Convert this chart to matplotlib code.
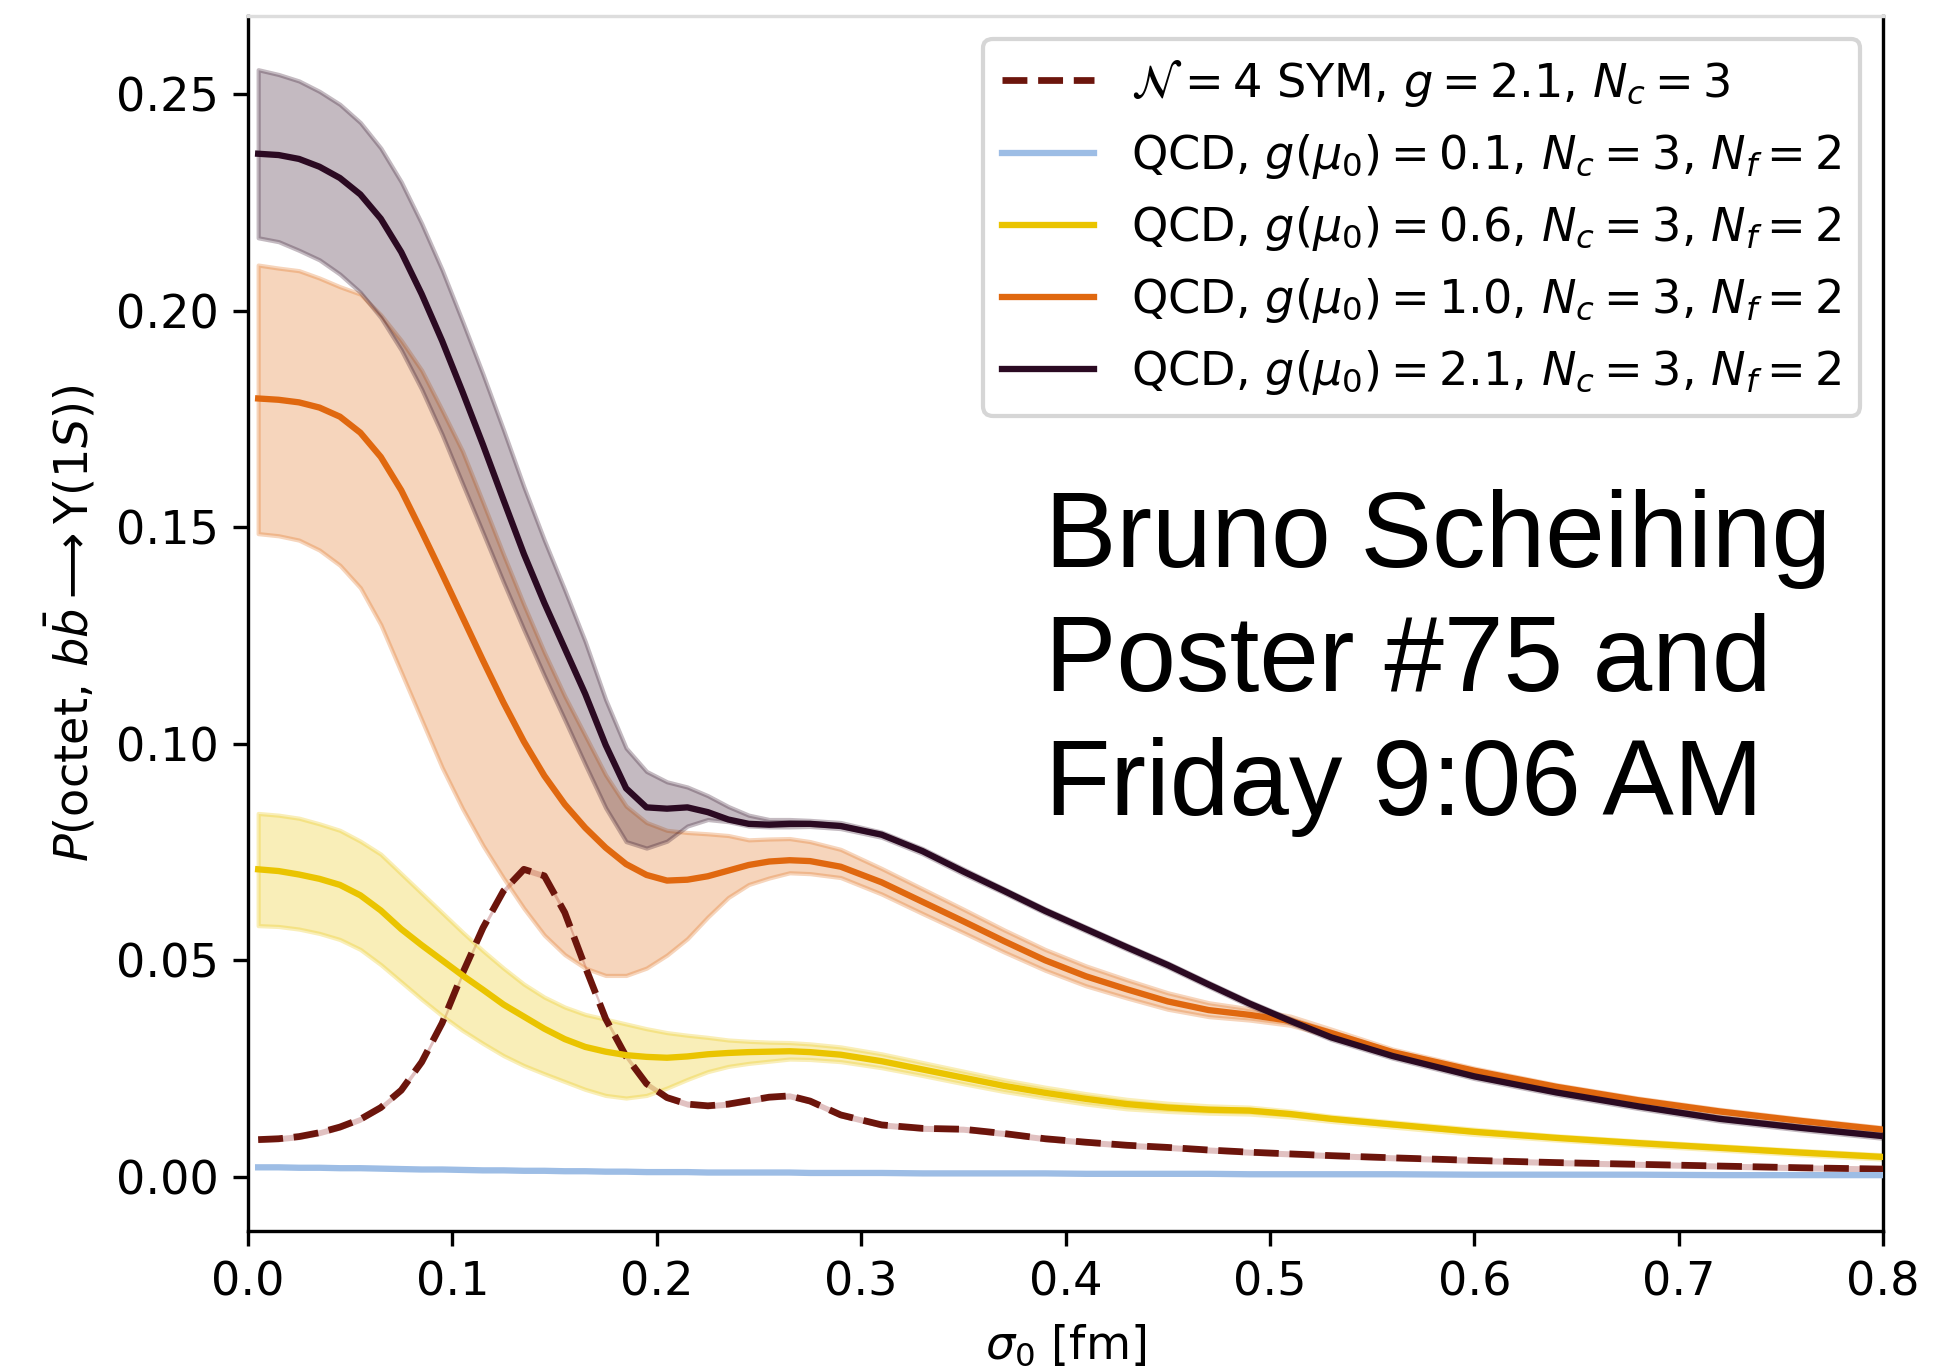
import matplotlib
matplotlib.use("Agg")
import matplotlib.pyplot as plt

sigma0 = [0.005, 0.015, 0.025, 0.035, 0.045, 0.055, 0.065, 0.075, 0.085, 0.095,
          0.105, 0.115, 0.125, 0.135, 0.145, 0.155, 0.165, 0.175, 0.185, 0.195,
          0.205, 0.215, 0.225, 0.235, 0.245, 0.255, 0.265, 0.275, 0.29, 0.31,
          0.33, 0.35, 0.37, 0.39, 0.41, 0.43, 0.45, 0.47, 0.49, 0.51,
          0.53, 0.56, 0.60, 0.64, 0.68, 0.72, 0.76, 0.80]

sym = [0.0086, 0.0088, 0.0093, 0.0102, 0.0115, 0.0133, 0.0160, 0.0200, 0.0265, 0.0355,
       0.0470, 0.0575, 0.0660, 0.0710, 0.0695, 0.0610, 0.0485, 0.0365, 0.0278, 0.0215,
       0.0183, 0.0168, 0.0164, 0.0168, 0.0176, 0.0184, 0.0187, 0.0175, 0.0143, 0.0120,
       0.0112, 0.0110, 0.0100, 0.0088, 0.0080, 0.0073, 0.0068, 0.0062, 0.0057, 0.0053,
       0.0049, 0.0044, 0.0038, 0.0033, 0.0029, 0.0025, 0.0021, 0.0018]

qcd01 = [0.0022, 0.0022, 0.0021, 0.0021, 0.0020, 0.0020, 0.0019, 0.0018, 0.0017, 0.0017,
         0.0016, 0.0015, 0.0015, 0.0014, 0.0014, 0.0013, 0.0013, 0.0012, 0.0012, 0.0011,
         0.0011, 0.0011, 0.0010, 0.0010, 0.0010, 0.0010, 0.0010, 0.0009, 0.0009, 0.0009,
         0.0008, 0.0008, 0.0008, 0.0008, 0.0007, 0.0007, 0.0007, 0.0007, 0.0006, 0.0006,
         0.0006, 0.0006, 0.0005, 0.0005, 0.0005, 0.0004, 0.0004, 0.0004]

qcd06 = [0.0710, 0.0706, 0.0698, 0.0688, 0.0674, 0.0650, 0.0615, 0.0572, 0.0535, 0.0500,
         0.0465, 0.0432, 0.0398, 0.0370, 0.0342, 0.0318, 0.0300, 0.0289, 0.0281, 0.0277,
         0.0275, 0.0278, 0.0283, 0.0286, 0.0288, 0.0289, 0.0290, 0.0288, 0.0282, 0.0267,
         0.0248, 0.0229, 0.0210, 0.0194, 0.0180, 0.0168, 0.0160, 0.0155, 0.0153, 0.0145,
         0.0134, 0.0121, 0.0104, 0.0090, 0.0078, 0.0067, 0.0056, 0.0046]
qcd06_hi = [0.0839, 0.0835, 0.0828, 0.0815, 0.0800, 0.0775, 0.0745, 0.0700, 0.0655, 0.0610,
            0.0565, 0.0522, 0.0482, 0.0445, 0.0415, 0.0392, 0.0375, 0.0364, 0.0353, 0.0342,
            0.0333, 0.0327, 0.0322, 0.0316, 0.0313, 0.0311, 0.0310, 0.0307, 0.0300, 0.0284,
            0.0264, 0.0244, 0.0224, 0.0207, 0.0192, 0.0179, 0.0170, 0.0164, 0.0161, 0.0152,
            0.0140, 0.0127, 0.0110, 0.0095, 0.0083, 0.0072, 0.0061, 0.0051]
qcd06_lo = [0.0580, 0.0578, 0.0572, 0.0562, 0.0548, 0.0525, 0.0490, 0.0450, 0.0410, 0.0372,
            0.0338, 0.0308, 0.0280, 0.0257, 0.0238, 0.0220, 0.0202, 0.0188, 0.0182, 0.0188,
            0.0205, 0.0225, 0.0243, 0.0255, 0.0262, 0.0267, 0.0272, 0.0271, 0.0266, 0.0252,
            0.0234, 0.0215, 0.0197, 0.0182, 0.0168, 0.0157, 0.0151, 0.0147, 0.0145, 0.0138,
            0.0128, 0.0115, 0.0098, 0.0085, 0.0073, 0.0062, 0.0051, 0.0041]

qcd10 = [0.1797, 0.1794, 0.1788, 0.1776, 0.1755, 0.1718, 0.1662, 0.1585, 0.1490, 0.1392,
         0.1292, 0.1192, 0.1095, 0.1005, 0.0926, 0.0860, 0.0806, 0.0760, 0.0722, 0.0697,
         0.0684, 0.0686, 0.0694, 0.0707, 0.0720, 0.0728, 0.0731, 0.0729, 0.0716, 0.0680,
         0.0635, 0.0590, 0.0544, 0.0500, 0.0463, 0.0433, 0.0405, 0.0385, 0.0374, 0.0360,
         0.0332, 0.0288, 0.0245, 0.0208, 0.0177, 0.0151, 0.0129, 0.0109]
qcd10_hi = [0.2105, 0.2098, 0.2092, 0.2075, 0.2055, 0.2038, 0.1990, 0.1931, 0.1862, 0.1770,
            0.1675, 0.1557, 0.1437, 0.1321, 0.1211, 0.1110, 0.1019, 0.0928, 0.0856, 0.0818,
            0.0800, 0.0795, 0.0792, 0.0788, 0.0778, 0.0780, 0.0781, 0.0774, 0.0756, 0.0712,
            0.0665, 0.0618, 0.0570, 0.0525, 0.0487, 0.0455, 0.0425, 0.0402, 0.0388, 0.0371,
            0.0341, 0.0295, 0.0251, 0.0213, 0.0182, 0.0156, 0.0134, 0.0114]
qcd10_lo = [0.1485, 0.1480, 0.1470, 0.1447, 0.1412, 0.1360, 0.1275, 0.1165, 0.1055, 0.0945,
            0.0850, 0.0765, 0.0690, 0.0620, 0.0558, 0.0513, 0.0482, 0.0465, 0.0465, 0.0482,
            0.0512, 0.0550, 0.0600, 0.0645, 0.0675, 0.0690, 0.0702, 0.0700, 0.0691, 0.0653,
            0.0608, 0.0564, 0.0519, 0.0477, 0.0441, 0.0413, 0.0387, 0.0370, 0.0362, 0.0350,
            0.0324, 0.0282, 0.0239, 0.0203, 0.0172, 0.0146, 0.0124, 0.0104]

qcd21 = [0.2362, 0.2359, 0.2350, 0.2332, 0.2306, 0.2268, 0.2212, 0.2135, 0.2038, 0.1930,
         0.1812, 0.1690, 0.1563, 0.1438, 0.1325, 0.1220, 0.1115, 0.0997, 0.0897, 0.0853,
         0.0850, 0.0853, 0.0842, 0.0825, 0.0815, 0.0813, 0.0815, 0.0815, 0.0810, 0.0790,
         0.0752, 0.0705, 0.0660, 0.0614, 0.0572, 0.0530, 0.0489, 0.0444, 0.0400, 0.0360,
         0.0322, 0.0279, 0.0232, 0.0195, 0.0163, 0.0134, 0.0113, 0.0094]
qcd21_hi = [0.2556, 0.2545, 0.2530, 0.2506, 0.2476, 0.2434, 0.2375, 0.2297, 0.2201, 0.2094,
            0.1975, 0.1853, 0.1725, 0.1593, 0.1470, 0.1355, 0.1236, 0.1102, 0.0990, 0.0936,
            0.0912, 0.0900, 0.0880, 0.0855, 0.0835, 0.0825, 0.0825, 0.0823, 0.0818, 0.0796,
            0.0758, 0.0711, 0.0665, 0.0619, 0.0577, 0.0535, 0.0494, 0.0449, 0.0405, 0.0365,
            0.0327, 0.0284, 0.0237, 0.0200, 0.0168, 0.0139, 0.0118, 0.0099]
qcd21_lo = [0.2168, 0.2159, 0.2139, 0.2117, 0.2084, 0.2042, 0.1984, 0.1909, 0.1818, 0.1714,
            0.1600, 0.1487, 0.1373, 0.1263, 0.1157, 0.1055, 0.0952, 0.0852, 0.0774, 0.0759,
            0.0775, 0.0810, 0.0825, 0.0820, 0.0810, 0.0808, 0.0808, 0.0809, 0.0804, 0.0784,
            0.0746, 0.0699, 0.0655, 0.0609, 0.0567, 0.0525, 0.0484, 0.0439, 0.0395, 0.0355,
            0.0317, 0.0274, 0.0227, 0.0190, 0.0158, 0.0129, 0.0108, 0.0089]

sym_band = 0.0007

labels = [r'$\mathcal{N}=4$ SYM, $g=2.1$, $N_c=3$',
          r'QCD, $g(\mu_0)=0.1$, $N_c=3$, $N_f=2$',
          r'QCD, $g(\mu_0)=0.6$, $N_c=3$, $N_f=2$',
          r'QCD, $g(\mu_0)=1.0$, $N_c=3$, $N_f=2$',
          r'QCD, $g(\mu_0)=2.1$, $N_c=3$, $N_f=2$']

c_sym = '#6c150c'
c_blue = '#9dbde5'
c_yel = '#eac400'
c_org = '#e0680f'
c_dark = '#2b0a22'

plt.rcParams['font.size'] = 11

fig = plt.figure(figsize=(6.4, 4.5233), dpi=302.66)
ax = fig.add_axes([0.128, 0.1008, 0.8442, 0.8875])

# bands
ax.fill_between(sigma0, [v - sym_band for v in sym], [v + sym_band for v in sym],
                color='#c98f8f', alpha=0.55, lw=0, zorder=1)
ax.fill_between(sigma0, qcd06_lo, qcd06_hi, color=c_yel, alpha=0.28, zorder=1)
ax.fill_between(sigma0, qcd10_lo, qcd10_hi, color=c_org, alpha=0.28, zorder=1)
ax.fill_between(sigma0, qcd21_lo, qcd21_hi, color=c_dark, alpha=0.28, zorder=1)

ax.plot(sigma0, sym, ls='--', color=c_sym, lw=1.6, label=labels[0], zorder=3)
ax.plot(sigma0, qcd01, color=c_blue, lw=1.5, label=labels[1], zorder=3)
ax.plot(sigma0, qcd06, color=c_yel, lw=1.5, label=labels[2], zorder=3)
ax.plot(sigma0, qcd10, color=c_org, lw=1.5, label=labels[3], zorder=3)
ax.plot(sigma0, qcd21, color=c_dark, lw=1.5, label=labels[4], zorder=3)

ax.set_xlim(0, 0.8)
ax.set_ylim(-0.0125, 0.268)
ax.set_xticks([0.0, 0.1, 0.2, 0.3, 0.4, 0.5, 0.6, 0.7, 0.8])
ax.set_yticks([0.0, 0.05, 0.10, 0.15, 0.20, 0.25])
ax.set_xlabel(r'$\sigma_0$ [fm]')
ax.set_ylabel(r'$P(\mathrm{octet},\, b\bar{b} \longrightarrow \Upsilon(1S))$')
ax.spines['top'].set_color('#dddddd')

ax.legend(loc='upper right', fontsize=11)

fig.text(0.5395, 1 - 815 / 1369, 'Bruno Scheihing\nPoster #75 and\nFriday 9:06\u2009AM',
         family=['Liberation Sans', 'DejaVu Sans'], fontsize=25.5, ha='left', va='baseline',
         linespacing=1.31, multialignment='left')

fig.savefig('out.png', dpi=302.66)
